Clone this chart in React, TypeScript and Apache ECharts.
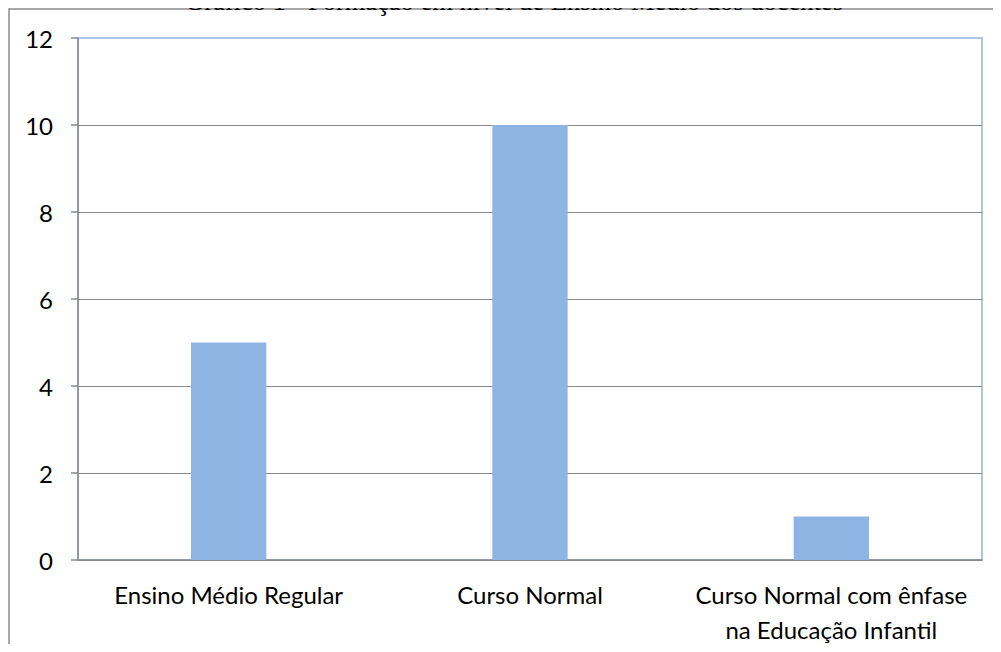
import React, { useEffect, useRef } from "react";
import * as echarts from "echarts";

const categories = [
  "Ensino Médio Regular",
  "Curso Normal",
  "Curso Normal com ênfase\nna Educação Infantil",
];
const values = [5, 10, 1];
const yTicks = { min: 0, max: 12, interval: 2 };
const title = "Gráfico 1 - Formação em nível de Ensino Médio dos docentes";

export default function App() {
  const ref = useRef<HTMLDivElement>(null);
  useEffect(() => {
    const chart = echarts.init(ref.current!, null, { renderer: "svg" });
    chart.setOption({
      animation: false,
      backgroundColor: "#ffffff",
      textStyle: { fontFamily: "Lato, 'Open Sans', sans-serif" },
      graphic: [
        {
          type: "rect",
          shape: { x: 9, y: 9, width: 1100, height: 800 },
          style: { fill: "none", stroke: "#8a8a8a", lineWidth: 1.5 },
          z: 0,
        },
        {
          type: "text",
          style: {
            text: title,
            x: 514,
            y: 14,
            textAlign: "center",
            textVerticalAlign: "bottom",
            font: "26.5px 'Liberation Serif', 'Times New Roman', serif",
            fill: "#000",
          },
        },
      ],
      grid: {
        left: 78,
        right: 19,
        top: 38,
        bottom: 92,
        show: true,
        borderColor: "#8eb4e3",
        borderWidth: 1.5,
        containLabel: false,
      },
      xAxis: {
        type: "category",
        data: categories,
        axisLine: { show: true, lineStyle: { color: "#8a8a8a", width: 1.5 } },
        axisTick: { show: false },
        axisLabel: {
          color: "#000",
          fontSize: 24,
          lineHeight: 35,
          margin: 17,
          interval: 0,
        },
      },
      yAxis: {
        type: "value",
        min: yTicks.min,
        max: yTicks.max,
        interval: yTicks.interval,
        axisLine: { show: true, lineStyle: { color: "#8a8a8a", width: 1.5 } },
        axisTick: { show: true, length: 7, lineStyle: { color: "#8a8a8a", width: 1.5 } },
        axisLabel: { color: "#000", fontSize: 24, margin: 25 },
        splitLine: {
          show: true,
          showMaxLine: false,
          lineStyle: { color: "#8a8a8a", width: 1.2 },
        },
      },
      series: [
        {
          type: "bar",
          data: values,
          barWidth: "25%",
          itemStyle: { color: "#8eb4e3" },
        },
      ],
    });
    return () => chart.dispose();
  }, []);
  return <div ref={ref} style={{ width: 1001, height: 652, margin: -8 }} />;
}
